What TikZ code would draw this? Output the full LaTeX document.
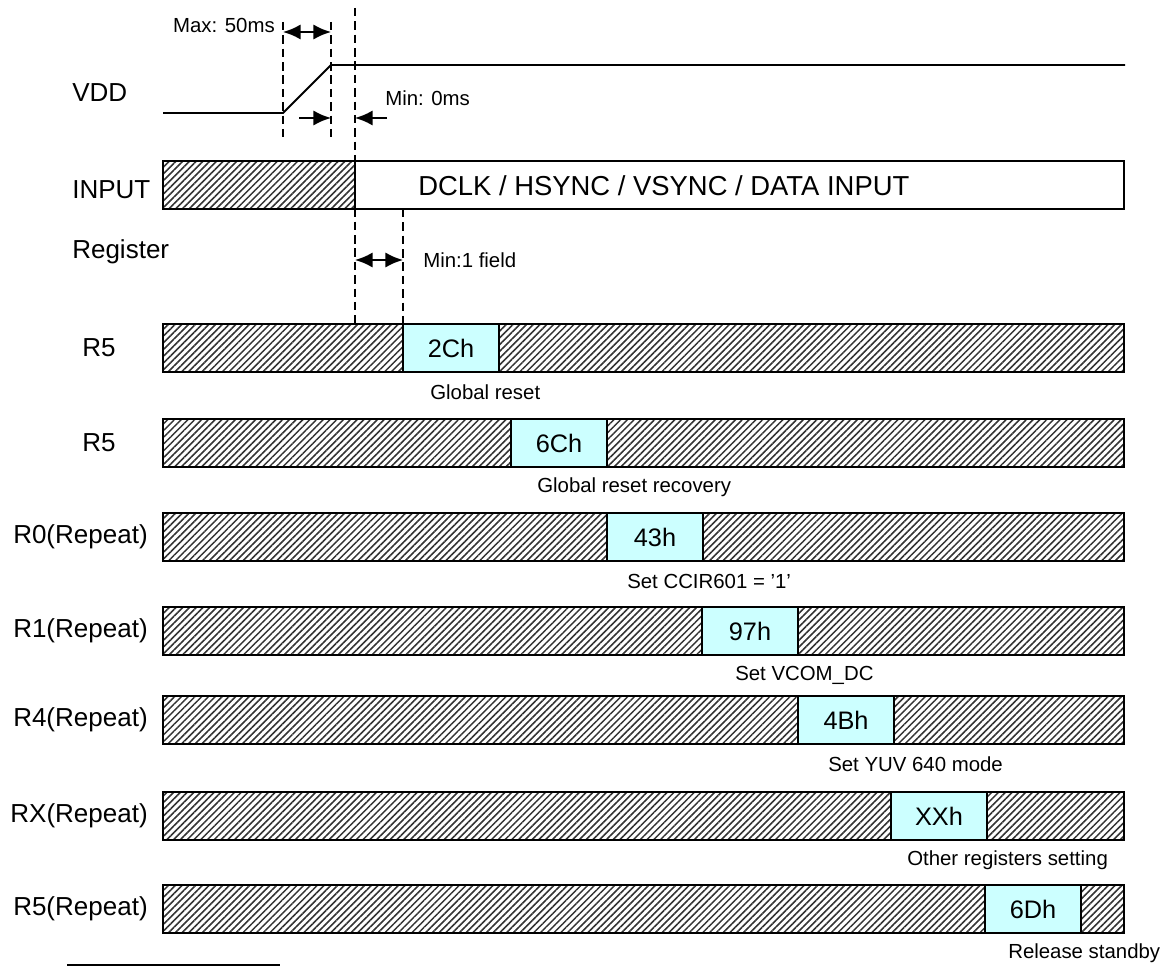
\documentclass[tikz,border=0pt]{standalone}
\usepackage{fontspec}
\setmainfont{Liberation Sans}
\usepackage{tikz}
\usetikzlibrary{positioning,arrows.meta,patterns.meta}
\definecolor{regcyan}{HTML}{CCFFFF}

\begin{document}
\begin{tikzpicture}[
    x=0.025cm, y=-0.025cm,
    lbl/.style={font=\fontsize{18.5}{22}\selectfont, inner sep=0pt},
    note/.style={font=\fontsize{14.5}{17}\selectfont, inner sep=0pt},
    hatch/.style={rectangle, draw, line width=1.4pt, minimum height=1.2cm,
                  inner sep=0pt, outer sep=0pt,
                  pattern={Lines[angle=45, distance=3.4pt, line width=1.1pt]},
                  pattern color=black!80},
    regval/.style={rectangle, draw, line width=1.4pt, fill=regcyan,
                   minimum width=2.4cm, minimum height=1.2cm,
                   inner sep=0pt, outer sep=0pt, font=\fontsize{18}{22}\selectfont},
    guide/.style={line width=1.9pt, dash pattern=on 6pt off 3.5pt},
    dim/.style={line width=1.5pt,
                {Latex[length=4.4mm, width=3.8mm]}-{Latex[length=4.4mm, width=3.8mm]}},
    tip/.style={line width=1.5pt, -{Latex[length=4.4mm, width=3.8mm]}},
]
\useasboundingbox (0,0) rectangle (1171,966);

% Timing guides
\draw[guide] (283,22) -- (283,138);
\draw[guide] (331,22) -- (331,138);
\draw[guide] (355,8) -- (355,324);
\draw[guide] (403,209) -- (403,324);

% VDD rise
\node[lbl, anchor=west] (vddlbl) at (72,93) {VDD};
\coordinate (vddL) at (163,113);
\coordinate (rampL) at (283,113);
\coordinate (rampR) at (331,65);
\coordinate (vddR) at (1125,65);
\draw[line width=1.4pt] (vddL) -- (rampL) -- (rampR) -- (vddR);

\node[note, anchor=east] (maxtxt) at (275,25) {Max: 50ms};
\coordinate (maxL) at (283,32);
\coordinate (maxR) at (331,32);
\draw[dim] (maxL) -- (maxR);

\node[note, anchor=west] (mintxt) at (385,98) {Min: 0ms};
\coordinate (minA) at (299,118);
\coordinate (minB) at (331,118);
\coordinate (minC) at (387,118);
\coordinate (minD) at (355,118);
\draw[tip] (minA) -- (minB);
\draw[tip] (minC) -- (minD);

% Input lane
\node[lbl, anchor=west] (inlbl) at (72,190) {INPUT};
\node[hatch, anchor=north west, minimum width=4.8cm] (inhatch) at (163,161) {};
\node[rectangle, draw, line width=1.4pt, fill=white, anchor=north west,
      minimum width=19.225cm, minimum height=1.2cm, outer sep=0pt] (indata) at (355,161) {};
\node[lbl, anchor=west, font=\fontsize{19.5}{22}\selectfont] (intxt) at (418,186)
    {DCLK / HSYNC / VSYNC / DATA INPUT};

% Register writes
\node[lbl, anchor=west] (reglbl) at (72,252) {Register};
\coordinate (fieldL) at (355,260);
\coordinate (fieldR) at (403,260);
\draw[dim] (fieldL) -- (fieldR);
\node[note, anchor=west] (fieldtxt) at (423,260) {Min:1 field};

\foreach \i/\top/\reg/\rx/\val/\vx/\txt/\tx in {
    1/324/R5/116/2Ch/403/Global reset/430,
    2/419/R5/116/6Ch/511/Global reset recovery/537,
    3/513/R0(Repeat)/148/43h/607/Set CCIR601 = '1'/627,
    4/607/R1(Repeat)/148/97h/702/Set VCOM\_DC/735,
    5/696/R4(Repeat)/148/4Bh/798/Set YUV 640 mode/828,
    6/792/RX(Repeat)/148/XXh/891/Other registers setting/907,
    7/885/R5(Repeat)/148/6Dh/985/Release standby/1008} {
    \node[hatch, anchor=north west, minimum width=24.025cm] (bar\i) at (163,\top) {};
    \node[regval, anchor=north west] (val\i) at (\vx,\top) {\val};
    \node[lbl, anchor=east] (reg\i) at (\rx,\top+24) {\reg};
    \node[note, anchor=west] (note\i) at (\tx,\top+68) {\txt};
}

% Footnote rule
\coordinate (ruleL) at (67,965);
\coordinate (ruleR) at (280,965);
\draw[line width=1pt] (ruleL) -- (ruleR);
\end{tikzpicture}
\end{document}
